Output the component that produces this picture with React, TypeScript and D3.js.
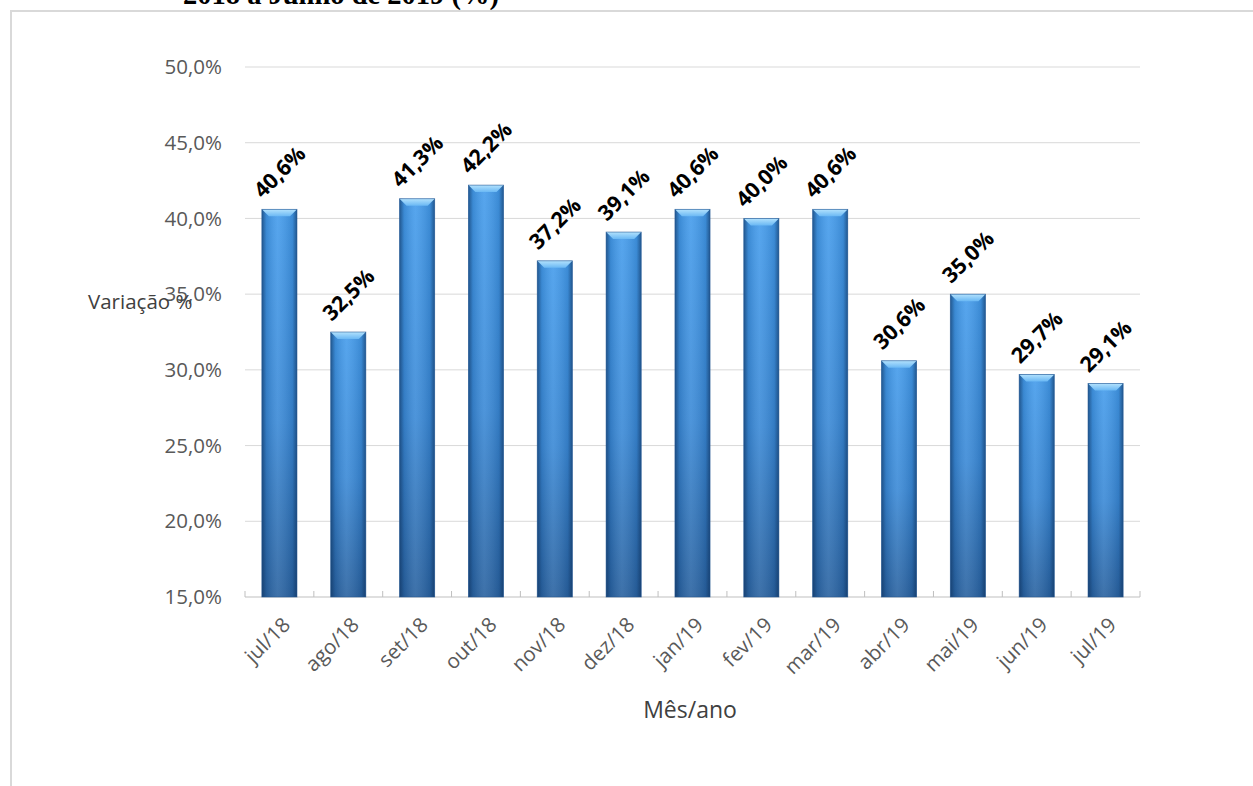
import React from "react";
import * as d3 from "d3";

// Monthly variation (%) from jul/18 to jul/19
const months = ["jul/18", "ago/18", "set/18", "out/18", "nov/18", "dez/18", "jan/19", "fev/19", "mar/19", "abr/19", "mai/19", "jun/19", "jul/19"];
const values = [40.6, 32.5, 41.3, 42.2, 37.2, 39.1, 40.6, 40.0, 40.6, 30.6, 35.0, 29.7, 29.1];
const yTicks = [15, 20, 25, 30, 35, 40, 45, 50];

const W = 1253;
const H = 786;
const FONT = "'Open Sans', 'Noto Sans', sans-serif";

const fmt = (v: number) => v.toFixed(1).replace(".", ",") + "%";

export default function App() {
  const x = d3
    .scaleBand<string>()
    .domain(months)
    .range([245, 1140])
    .paddingInner(0.49)
    .paddingOuter(0.245);
  const y = d3.scaleLinear().domain([15, 50]).range([597, 67]);
  const step = x.step();
  const x0 = x.range()[0];
  const boundaries = d3.range(months.length + 1).map((i) => x0 + i * step);
  const bw = x.bandwidth();
  const bevel = 7;

  return (
    <svg
      width={W}
      height={H}
      style={{ position: "absolute", left: 0, top: 0, background: "#fff" }}
    >
      <defs>
        <linearGradient id="barV" x1="0" y1="0" x2="0" y2="1">
          <stop offset="0" stopColor="#449cec" />
          <stop offset="0.55" stopColor="#3a89d6" />
          <stop offset="1" stopColor="#2962a0" />
        </linearGradient>
        <linearGradient id="barH" x1="0" y1="0" x2="1" y2="0">
          <stop offset="0" stopColor="#0b2a52" stopOpacity="0.6" />
          <stop offset="0.13" stopColor="#0b2a52" stopOpacity="0.15" />
          <stop offset="0.45" stopColor="#ffffff" stopOpacity="0.1" />
          <stop offset="0.87" stopColor="#0b2a52" stopOpacity="0.15" />
          <stop offset="1" stopColor="#0b2a52" stopOpacity="0.6" />
        </linearGradient>
        <linearGradient id="bevelTop" x1="0" y1="0" x2="0" y2="1">
          <stop offset="0" stopColor="#b3e2fd" />
          <stop offset="1" stopColor="#6ab8f4" />
        </linearGradient>
      </defs>

      {/* title line, clipped at top of page */}
      <text
        x={183}
        y={3.5}
        fontFamily="'Liberation Serif', 'Times New Roman', serif"
        fontWeight="bold"
        fontSize={28.5}
        fill="#000"
      >
        2018 a Junho de 2019 (%)
      </text>

      {/* chart frame */}
      <path d={`M11,${H} V11 H${W}`} fill="none" stroke="#d9d9d9" strokeWidth={2} />

      {/* gridlines */}
      {yTicks.map((t) => (
        <line
          key={"g" + t}
          x1={x0}
          x2={x.range()[1]}
          y1={y(t)}
          y2={y(t)}
          stroke={t === 15 ? "#bfbfbf" : "#d9d9d9"}
          strokeWidth={1}
        />
      ))}

      {/* x tick marks */}
      {boundaries.map((b, i) => (
        <line key={"t" + i} x1={b} x2={b} y1={y(15)} y2={y(15) - 6} stroke="#bfbfbf" />
      ))}

      {/* y tick labels */}
      {yTicks.map((t) => (
        <text
          key={"yl" + t}
          x={222}
          y={y(t)}
          dy="0.35em"
          textAnchor="end"
          fontFamily={FONT}
          fontSize={20.5}
          fill="#595959"
        >
          {t.toFixed(1).replace(".", ",") + "%"}
        </text>
      ))}

      {/* bars */}
      {months.map((m, i) => {
        const bx = x(m)!;
        const by = y(values[i]);
        const bh = y(15) - by;
        return (
          <g key={"b" + m}>
            <rect x={bx} y={by} width={bw} height={bh} fill="url(#barV)" />
            <rect x={bx} y={by} width={bw} height={bh} fill="url(#barH)" />
            <polygon
              points={`${bx},${by} ${bx + bw},${by} ${bx + bw - bevel},${by + bevel} ${bx + bevel},${by + bevel}`}
              fill="url(#bevelTop)"
            />
            <rect x={bx} y={by} width={bw} height={bh} fill="none" stroke="#245690" strokeWidth={0.8} strokeOpacity={0.7} />
          </g>
        );
      })}

      {/* value labels */}
      {months.map((m, i) => {
        const bx = x(m)!;
        const by = y(values[i]);
        return (
          <text
            key={"v" + m}
            transform={`translate(${bx + 1},${by - 10}) rotate(-45)`}
            fontFamily={FONT}
            fontWeight="bold"
            fontSize={21.5}
            fill="#000"
          >
            {fmt(values[i])}
          </text>
        );
      })}

      {/* x tick labels */}
      {months.map((m) => {
        const cx = x(m)! + bw / 2;
        return (
          <text
            key={"xl" + m}
            transform={`translate(${cx + 7},${y(15) + 24}) rotate(-45)`}
            textAnchor="end"
            dy="0.35em"
            fontFamily={FONT}
            fontSize={20.5}
            fill="#595959"
          >
            {m}
          </text>
        );
      })}

      {/* axis titles */}
      <text
        x={690}
        y={718}
        textAnchor="middle"
        fontFamily={FONT}
        fontSize={23}
        fill="#404040"
      >
        Mês/ano
      </text>
      <text x={88} y={309} fontFamily={FONT} fontSize={20.5} fill="#404040">
        Variação %
      </text>
    </svg>
  );
}
